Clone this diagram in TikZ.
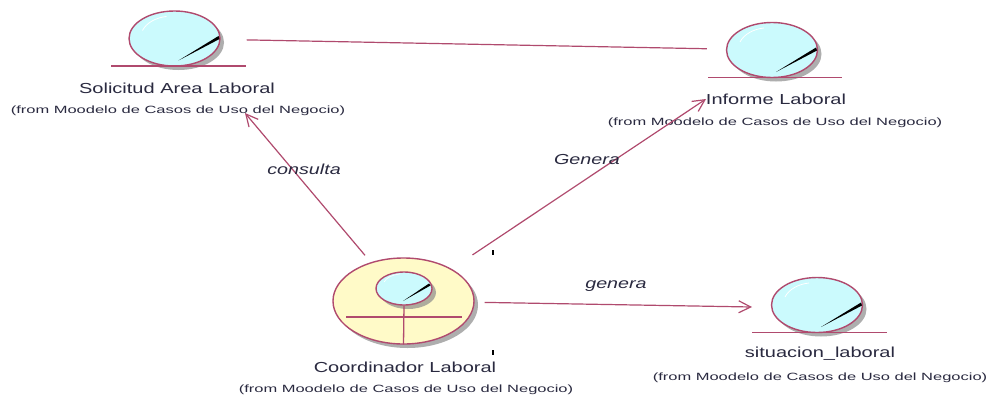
\documentclass[tikz,border=0pt]{standalone}
\usepackage{fontspec}
\setmainfont{Liberation Sans}
\newfontfamily\titlefont[FakeStretch=1.38]{Liberation Sans}
\newfontfamily\originfont[FakeStretch=1.57]{Liberation Sans}
\newfontfamily\rolefont[FakeStretch=1.36]{Liberation Sans}
\usetikzlibrary{arrows.meta,shapes.geometric,shadows}
\definecolor{umlline}{HTML}{B04A6E}
\definecolor{umlcyan}{HTML}{CBFAFD}
\definecolor{umlyellow}{HTML}{FFFAC8}
\definecolor{umltext}{HTML}{2A2A40}
\tikzset{
 classball/.style={ellipse, draw=umlline, fill=umlcyan, line width=1.4pt, inner sep=0,
   drop shadow={shadow xshift=4pt, shadow yshift=-4pt, fill=black!45, opacity=.7}},
 title/.style={font=\titlefont\fontsize{14.5}{16}\selectfont, text=umltext, inner sep=0},
 origin/.style={font=\originfont\fontsize{10.5}{12}\selectfont, text=umltext, inner sep=0},
 rolename/.style={font=\rolefont\fontsize{14.5}{16}\selectfont\itshape, text=umltext, inner sep=0},
 assoc/.style={draw=umlline, line width=1.2pt},
 nav/.style={assoc, -{Straight Barb[length=12pt,width=12pt]}},
}
\begin{document}
\begin{tikzpicture}[x=1pt,y=-1pt]
\useasboundingbox (0,0) rectangle (987,394);
\fill[white] (0,0) rectangle (987,394);
\foreach \name/\x/\y/\lx/\ly in {solicitud/174.5/38.5/111/246, informe/772/50/708/842, situacion/817/305/752/887} {
 \node[classball, minimum width=91pt, minimum height=55pt] (\name) at (\x,\y) {};
 \begin{scope}[shift={(\name)}]
  \draw[white, line width=.8pt] (-32,-8) .. controls (-28,-16) and (-18,-21) .. (-8,-22);
  \fill[black] (4,22) -- (44,-2.5) -- (45,0.5) -- cycle;
 \end{scope}
 \draw[umlline, line width=1.3pt] (\lx,\y+27.5) -- (\ly,\y+27.5);
}
\node[classball, fill=umlyellow, minimum width=141pt, minimum height=86pt] (coordinador) at (403.5,301) {};
\node[classball, minimum width=56pt, minimum height=33pt, drop shadow={opacity=0}] (cabeza) at (404,288.5) {};
\draw[white, line width=.6pt] (384,282) .. controls (387,277) and (392,275) .. (400,274);
\fill[black] (403,301) -- (429,283.5) -- (430.5,285.5) -- cycle;
\draw[umlline, line width=1.3pt] (cabeza.south) -- (coordinador.south);
\draw[umlline, line width=1.3pt] (346,317) -- (462,317);
\draw[black, line width=1.2pt] (493,250) -- (493,255);
\draw[black, line width=1.2pt] (493,350) -- (493,355);
\node[title] (tsolicitud) at (177,88) {Solicitud Area Laboral};
\node[origin] (osolicitud) at (178,111) {(from Moodelo de Casos de Uso del Negocio)};
\node[title] (tinforme) at (776,99) {Informe Laboral};
\node[origin] (oinforme) at (775,123) {(from Moodelo de Casos de Uso del Negocio)};
\node[title] (tcoordinador) at (405,367) {Coordinador Laboral};
\node[origin] (ocoordinador) at (406,390) {(from Moodelo de Casos de Uso del Negocio)};
\node[title] (tsituacion) at (820,354) {situacion\_laboral};
\node[origin] (osituacion) at (820,378) {(from Moodelo de Casos de Uso del Negocio)};
\coordinate (insolicitud) at (245,113);
\coordinate (ininforme) at (706,99);
\coordinate (insituacion) at (752,307);
\draw[assoc, shorten <=26pt, shorten >=19pt] (solicitud) -- (informe);
\draw[nav, shorten <=9pt] (coordinador) -- (insolicitud);
\draw[nav, shorten <=25pt] (coordinador) -- (ininforme);
\draw[nav, shorten <=10pt] (coordinador) -- (insituacion);
\node[rolename] (consulta) at (304,169) {consulta};
\node[rolename] (generaA) at (587,160) {Genera};
\node[rolename] (generaB) at (616,286) {genera};
\end{tikzpicture}
\end{document}
